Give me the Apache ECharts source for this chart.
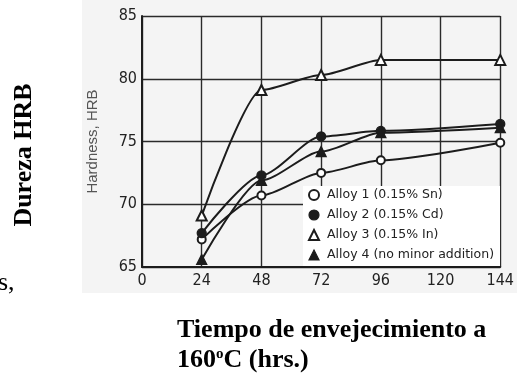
<!DOCTYPE html>
<html><head><meta charset="utf-8">
<script src="https://cdn.jsdelivr.net/npm/echarts@6/dist/echarts.min.js"></script>
<style>html,body{margin:0;padding:0;background:#fff}#c{width:517px;height:379px}</style>
</head><body><div id="c"></div>
<script>
// Data
const hours = [24, 48, 72, 96, 144];
const alloy1 = [67.2, 70.7, 72.5, 73.5, 74.9];
const alloy2 = [67.7, 72.3, 75.4, 75.85, 76.4];
const alloy3 = [69.1, 79.1, 80.3, 81.5, 81.5];
const alloy4 = [65.6, 71.9, 74.2, 75.7, 76.1];
const seriesNames = ['Alloy 1 (0.15% Sn)', 'Alloy 2 (0.15% Cd)', 'Alloy 3 (0.15% In)', 'Alloy 4 (no minor addition)'];
const seriesSymbols = ['emptyCircle', 'circle', 'emptyTriangle', 'triangle'];
const symbolSizes = [8, 9, 10, 10];
const xTicks = [0, 24, 48, 72, 96, 120, 144];
const yTicks = [65, 70, 75, 80, 85];
const yAxisTitle = 'Hardness, HRB';
const leftTitle = 'Dureza HRB';
const bottomTitle1 = 'Tiempo de envejecimiento a';
const bottomTitle2a = '160';
const bottomTitle2sup = 'o';
const bottomTitle2b = 'C (hrs.)';
const cutText = 's,';

const allValues = [alloy1, alloy2, alloy3, alloy4];
const ink = '#1c1c1c';
const narrow = "'Liberation Sans Narrow', 'DejaVu Sans Condensed', sans-serif";
const serif = "'Liberation Serif', 'Times New Roman', serif";

const series = allValues.map((vals, k) => ({
  name: seriesNames[k],
  type: 'line',
  data: hours.map((h, i) => [h, vals[i]]),
  smooth: 0.25,
  smoothMonotone: 'x',
  symbol: seriesSymbols[k],
  symbolSize: symbolSizes[k],
  showAllSymbol: true,
  lineStyle: { color: ink, width: 2 },
  itemStyle: { color: ink, borderColor: ink, borderWidth: 1.3 },
  emphasis: { disabled: true },
  z: 3
}));

const chart = echarts.init(document.getElementById('c'), null, { renderer: 'canvas' });
chart.setOption({
  animation: false,
  backgroundColor: '#ffffff',
  grid: { left: 142, right: 9, top: 16, bottom: 112, containLabel: false },
  xAxis: {
    type: 'value',
    min: xTicks[0], max: xTicks[xTicks.length - 1], interval: 24,
    axisLine: { show: true, onZero: false, lineStyle: { color: ink, width: 2 } },
    axisTick: { show: false },
    axisLabel: { color: '#222', fontFamily: narrow, fontSize: 16, margin: 6,
      formatter: v => xTicks.includes(v) ? String(v) : '' },
    splitLine: { show: true, lineStyle: { color: '#2a2a2a', width: 1.4 } }
  },
  yAxis: {
    type: 'value',
    min: yTicks[0], max: yTicks[yTicks.length - 1], interval: 5,
    name: yAxisTitle,
    nameLocation: 'middle',
    nameGap: 42,
    nameRotate: 90,
    nameTextStyle: { color: '#555', fontFamily: "'Liberation Sans', Arial, sans-serif", fontSize: 15 },
    axisLine: { show: true, lineStyle: { color: ink, width: 2 } },
    axisTick: { show: false },
    axisLabel: { color: '#222', fontFamily: narrow, fontSize: 16, margin: 5 },
    splitLine: { show: true, lineStyle: { color: '#2a2a2a', width: 1.4 } }
  },
  legend: {
    orient: 'vertical',
    left: 303, top: 186,
    padding: [2, 6, 4, 5],
    backgroundColor: '#ffffff',
    itemWidth: 10, itemHeight: 10,
    itemGap: 6,
    selectedMode: false,
    data: seriesNames.map((n, k) => ({ name: n, icon: seriesSymbols[k] })),
    itemStyle: { color: ink, borderColor: ink, borderWidth: 1.2 },
    textStyle: { color: '#222', fontFamily: "'DejaVu Sans', sans-serif", fontSize: 12.5, lineHeight: 14, padding: [0, 0, 0, 3] },
    z: 5
  },
  graphic: [
    { type: 'rect', z: -100, silent: true, shape: { x: 82, y: 0, width: 435, height: 293 }, style: { fill: '#f4f4f4' } },
    { type: 'text', x: 24, y: 155, rotation: Math.PI / 2, silent: true,
      style: { text: leftTitle, font: 'bold 26px ' + serif, fill: '#000', align: 'center', verticalAlign: 'middle' } },
    { type: 'text', x: 177, y: 315, silent: true,
      style: {
        text: '{a|' + bottomTitle1 + '}\n{a|' + bottomTitle2a + '}{s|' + bottomTitle2sup + '}{a|' + bottomTitle2b + '}',
        align: 'left', verticalAlign: 'top', fill: '#000',
        rich: {
          a: { fontFamily: serif, fontWeight: 'bold', fontSize: 26, lineHeight: 30, fill: '#000' },
          s: { fontFamily: serif, fontWeight: 'bold', fontSize: 15, lineHeight: 30, fill: '#000', verticalAlign: 'top', padding: [2, 0, 0, 0] }
        }
      } },
    { type: 'text', x: -2, y: 296, silent: true,
      style: { text: cutText, font: '26px ' + serif, fill: '#000', align: 'left', verticalAlign: 'bottom' } }
  ],
  series: series
});
</script></body></html>
